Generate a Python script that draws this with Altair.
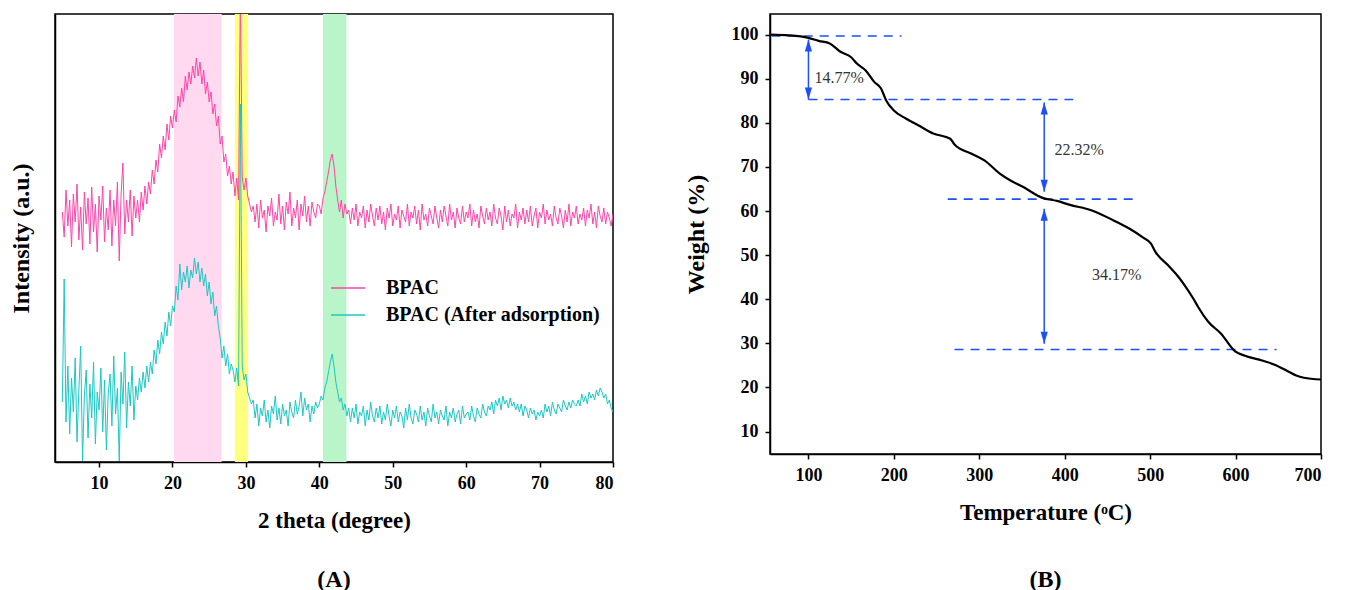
import altair as alt
import pandas as pd

# ---------------- Panel A : XRD patterns ----------------
THETA_START = 5.0
THETA_STEP = 0.25

bpac = [
    250, 225, 272, 236, 262, 215, 268, 240, 278, 222, 255, 212, 270, 238, 264, 218, 275, 230, 258, 210,
    266, 242, 276, 220, 254, 232, 272, 216, 262, 236, 280, 201, 268, 299, 228, 262, 240, 272, 226, 266, 244,
    262, 240, 270, 252, 276, 258, 280, 268, 292, 278, 302, 290, 318, 304, 326, 312, 338, 322, 346, 334,
    352, 340, 366, 355, 374, 360, 386, 372, 390, 378, 396, 384, 404, 386, 400, 378, 392, 368, 380, 360, 370, 348, 358, 336,
    346, 318, 326, 300, 308, 286, 296, 278, 290, 266, 284, 262,
    470, 285, 272, 284, 266, 258, 250, 256,
    240, 258, 234, 262, 244, 252, 230, 256, 246, 264, 236, 250, 242, 268, 238, 256, 232, 260, 248, 270,
    236, 254, 244, 262, 232, 258, 246, 266, 240, 256, 236, 260, 250, 244, 258,
    256, 248, 264, 270, 280, 290, 302, 308, 296, 276, 262, 250, 262, 244, 258, 248, 252,
    238, 254, 242, 258, 236, 250, 244, 256, 234, 252, 240, 258, 246, 236, 254, 242,
    256, 238, 250, 232, 254, 244, 258, 236, 248, 242, 256, 234, 252, 246, 240, 258,
    236, 250, 244, 256, 238, 252, 232, 258, 242, 248, 236, 254, 246, 238, 256, 244,
    234, 252, 240, 256, 246, 236, 258, 242, 250, 234, 254, 244, 238, 256, 240, 250,
    244, 258, 236, 252, 240, 248, 234, 256, 246, 238, 254, 242, 250, 236, 258, 244,
    238, 254, 246, 232, 256, 240, 252, 236, 248, 244, 258, 234, 250, 242, 254, 238,
    252, 240, 256, 236, 246, 254, 234, 250, 244, 258, 238, 252, 242, 248, 236, 256,
    244, 238, 254, 246, 234, 252, 240, 258, 236, 250, 244, 256, 238, 248, 242, 254,
    236, 252, 244, 258, 238, 250, 234, 256, 246, 240, 254, 238, 250, 244, 236, 248,
]

bpac_ads = [
    60, 183, 40, 96, 28, 84, 50, 104, 20, 72, 116, 1, 66, 92, 24, 78, 44, 100, 18, 70,
    52, 94, 30, 82, 12, 68, 88, 36, 106, 48, 74, 1, 90, 58, 110, 34, 80, 56, 96, 42, 76,
    62, 84, 70, 90, 74, 96, 80, 100, 88, 112, 98, 122, 108, 130, 118, 140, 126, 150, 136, 156,
    150, 176, 162, 198, 172, 190, 180, 196, 174, 192, 184, 204, 188, 200, 180, 194, 176, 188, 166, 180, 158, 170, 146, 156,
    136, 124, 104, 116, 96, 108, 88, 98, 92, 80, 94, 76,
    358, 96, 82, 88, 70, 64, 58, 62,
    44, 58, 36, 54, 46, 62, 40, 52, 34, 56, 48, 66, 42, 54, 38, 58, 46, 52, 36, 60,
    50, 44, 62, 48, 56, 70, 46, 64, 52, 58, 40, 56, 48, 60, 54,
    58, 66, 62, 74, 80, 90, 100, 108, 96, 80, 70, 60, 64, 52, 58, 46, 54,
    40, 54, 44, 58, 38, 50, 46, 56, 36, 52, 42, 60, 46, 40, 54, 44,
    56, 38, 50, 42, 58, 46, 36, 52, 44, 56, 40, 50, 46, 34, 54, 42,
    58, 44, 38, 52, 48, 40, 56, 42, 50, 36, 54, 46, 40, 58, 44, 50,
    38, 52, 46, 42, 56, 36, 50, 44, 54, 40, 48, 52, 38, 56, 44, 48,
    50, 42, 56, 46, 40, 54, 48, 44, 58, 50, 46, 56,
    52, 60, 48, 62, 56, 64, 52, 66, 58, 62, 54, 64, 56, 60, 52, 58,
    50, 58, 46, 56, 52, 44, 54, 48, 52, 42, 50, 46,
    52, 44, 58, 50, 56, 46, 60, 52, 48, 58, 54, 50, 62, 56, 52, 60, 54, 62, 58, 56,
    62, 56, 68, 60, 66, 58, 70, 64, 68, 62, 72, 66, 74, 70,
    64, 68, 58, 62, 54, 50,
]

series_names = ["BPAC", "BPAC (After adsorption)"]
series_colors = ["#FF45A8", "#1CC8C4"]

band_start = [20.2, 28.5, 40.5]
band_end = [26.7, 30.3, 43.7]
band_colors = ["#FFD9EF", "#FFFF80", "#B9F5C9"]

theta_ticks = [10, 20, 30, 40, 50, 60, 70, 80]

# ---------------- Panel B : TGA curve ----------------
temperature = [55, 77, 100, 112, 125, 137, 150, 157, 167, 177, 185, 191, 200, 214, 229, 246, 266, 271,
               291, 306, 324, 336, 351, 374, 391, 406, 431, 456, 476, 491, 501, 506, 521, 533, 541,
               551, 556, 568, 583, 600, 611, 631, 645, 660, 671, 680, 700]
weight = [100, 99.85, 99.3, 98.6, 98.0, 96.2, 94.9, 93.4, 91.9, 89.3, 87.8, 85.1, 82.8, 81.0, 79.4, 77.6,
          76.4, 75.1, 73.0, 71.5, 68.5, 67.0, 65.5, 63.0, 62.3, 61.4, 60.2, 58.0, 56.0, 54.1, 52.6, 50.8,
          47.7, 45.1, 43.0, 40.0, 38.3, 34.9, 32.2, 28.1, 27.2, 26.1, 25.2, 23.8, 22.7, 22.2, 21.8]

dash_level = [99.7, 85.3, 62.7, 28.6]
dash_start = [57, 100, 263, 271]
dash_end = [209, 410, 483, 648]

arrow_x = [100, 376, 376]
arrow_top = [98.9, 84.6, 60.5]
arrow_bottom = [85.3, 64.4, 29.9]

loss_labels = ["14.77%", "22.32%", "34.17%"]
loss_x = [107, 388, 432]
loss_y = [90.2, 73.9, 45.6]

temp_ticks = [100, 200, 300, 400, 500, 600, 700]
weight_ticks = [10, 20, 30, 40, 50, 60, 70, 80, 90, 100]

BLUE = "#1E4FFF"
FONT = "Liberation Serif"

# ---------------- build tables ----------------
theta = [round(THETA_START + THETA_STEP * i, 2) for i in range(len(bpac))]
xrd = pd.concat([
    pd.DataFrame({"theta": theta, "intensity": bpac, "series": series_names[0]}),
    pd.DataFrame({"theta": theta, "intensity": bpac_ads, "series": series_names[1]}),
])
bands = pd.DataFrame({"start": band_start, "end": band_end, "color": band_colors})

tga = pd.DataFrame({"temp": temperature, "weight": weight})
dashes = pd.DataFrame({"level": dash_level, "start": dash_start, "end": dash_end})
arrows = pd.DataFrame({"x": arrow_x, "top": arrow_top, "bottom": arrow_bottom})
labels = pd.DataFrame({"label": loss_labels, "x": loss_x, "y": loss_y})

# ---------------- Panel A chart ----------------
xA = alt.X("theta:Q", scale=alt.Scale(domain=[4, 80], nice=False, zero=False),
           axis=alt.Axis(title="2 theta (degree)", values=theta_ticks, titlePadding=17))
yA = alt.Y("intensity:Q", scale=alt.Scale(domain=[0, 448], nice=False),
           axis=alt.Axis(title="Intensity (a.u.)", labels=False, ticks=False, titlePadding=22,
                         titleFontSize=24))

band_layer = alt.Chart(bands).mark_rect(opacity=1).encode(
    x=alt.X("start:Q", scale=alt.Scale(domain=[4, 80], nice=False, zero=False)),
    x2="end:Q",
    fill=alt.Fill("color:N", scale=None, legend=None),
)

line_layer = alt.Chart(xrd).mark_line(strokeWidth=1, clip=True).encode(
    x=xA,
    y=yA,
    color=alt.Color(
        "series:N",
        scale=alt.Scale(domain=series_names, range=series_colors),
        legend=alt.Legend(
            title=None, orient="none", legendX=283, legendY=264,
            symbolType="M-2,0L2,0", symbolSize=289, symbolStrokeWidth=1.5,
            labelOffset=28, labelFont=FONT, labelFontSize=20, labelFontWeight="bold",
            labelColor="black", rowPadding=7, labelLimit=400,
        ),
    ),
)

chartA = alt.layer(band_layer, line_layer).properties(
    width=558, height=448,
    title=alt.TitleParams("(A)", orient="bottom", offset=36, fontSize=24, font=FONT),
)

# ---------------- Panel B chart ----------------
xB = alt.Scale(domain=[55, 700], nice=False, zero=False)
yB = alt.Scale(domain=[4.9, 104.7], nice=False, zero=False)

curve = alt.Chart(tga).mark_line(color="black", strokeWidth=2.2, interpolate="monotone").encode(
    x=alt.X("temp:Q", scale=xB,
            axis=alt.Axis(title="Temperature (ᵒC)", values=temp_ticks, titlePadding=17)),
    y=alt.Y("weight:Q", scale=yB,
            axis=alt.Axis(title="Weight (%)", values=weight_ticks, titlePadding=23,
                          titleFontSize=24)),
)

dash_layer = alt.Chart(dashes).mark_rule(color=BLUE, strokeWidth=1.6, strokeDash=[9, 7]).encode(
    x=alt.X("start:Q", scale=xB), x2="end:Q", y=alt.Y("level:Q", scale=yB),
)

shafts = alt.Chart(arrows).mark_rule(color=BLUE, strokeWidth=1.5).encode(
    x=alt.X("x:Q", scale=xB), y=alt.Y("top:Q", scale=yB), y2="bottom:Q",
)
heads_up = alt.Chart(arrows).mark_point(
    shape="M0,0L-0.6,2L0.6,2Z", filled=True, size=144, color=BLUE, opacity=1
).encode(x=alt.X("x:Q", scale=xB), y=alt.Y("top:Q", scale=yB))
heads_down = alt.Chart(arrows).mark_point(
    shape="M0,0L-0.6,-2L0.6,-2Z", filled=True, size=144, color=BLUE, opacity=1
).encode(x=alt.X("x:Q", scale=xB), y=alt.Y("bottom:Q", scale=yB))

text_layer = alt.Chart(labels).mark_text(
    align="left", baseline="middle", font=FONT, fontSize=16, color="#333333"
).encode(x=alt.X("x:Q", scale=xB), y=alt.Y("y:Q", scale=yB), text="label:N")

chartB = alt.layer(dash_layer, shafts, heads_up, heads_down, curve, text_layer).properties(
    width=551, height=440,
    title=alt.TitleParams("(B)", orient="bottom", offset=44, fontSize=24, font=FONT),
)

chart = alt.hconcat(chartA, chartB, spacing=68).properties(
    padding={"left": 0, "top": 5, "right": 0, "bottom": 0}
).configure_axis(
    labelFont=FONT, labelFontWeight="bold", labelFontSize=18, labelColor="black",
    titleFont=FONT, titleFontWeight="bold", titleFontSize=23, titleColor="black",
    domainColor="black", domainWidth=1.5, tickColor="black", tickWidth=1.5, tickSize=5,
    labelPadding=7, grid=False,
).configure_view(stroke="black", strokeWidth=1.5).configure_title(
    font=FONT, fontWeight="bold", color="black"
)

chart.save("out.html", embed_options={"renderer": "svg", "actions": False})
